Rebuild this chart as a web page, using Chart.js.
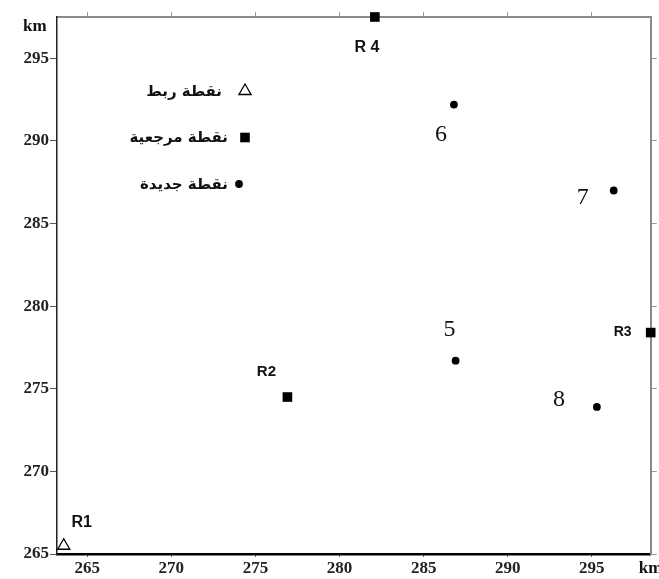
<!DOCTYPE html>
<html>
<head>
<meta charset="utf-8">
<script src="https://cdn.jsdelivr.net/npm/chart.js@4"></script>
<style>
html,body{margin:0;padding:0;background:#fff}
#chartDiv{width:659px;height:579px}
</style>
</head>
<body>
<div id="chartDiv"><canvas id="chartArea"></canvas></div>
<script>
// data (km)
var tieNames = ['R1']
var tieX = [263.6]
var tieY = [265.5]

var refNames = ['R2', 'R3', 'R 4']
var refX = [276.9, 298.5, 282.1]
var refY = [274.5, 278.4, 297.5]

var newNames = ['5', '6', '7', '8']
var newX = [286.9, 286.8, 296.3, 295.3]
var newY = [276.7, 292.2, 287.0, 273.9]

var xTicks = [265, 270, 275, 280, 285, 290, 295]
var yTicks = [265, 270, 275, 280, 285, 290, 295]
var xMin = 263.2, xMax = 298.5
var yMin = 265, yMax = 297.5

var legendLabels = ['نقطة ربط', 'نقطة مرجعية', 'نقطة جديدة']

// where each point name sits relative to its mark
var labelStyle = {
  'R1':  {dx: 18,  dy: -23, font: 'bold 16px "Liberation Sans"'},
  'R2':  {dx: -21, dy: -25, font: 'bold 15px "Liberation Sans"'},
  'R3':  {dx: -28, dy: 0,   font: 'bold 14px "Liberation Sans"'},
  'R 4': {dx: -8,  dy: 31,  font: 'bold 16px "Liberation Sans"'},
  '5':   {dx: -6,  dy: -31, font: '24px "Liberation Serif"'},
  '6':   {dx: -13, dy: 30,  font: '24px "Liberation Serif"'},
  '7':   {dx: -31, dy: 7,   font: '24px "Liberation Serif"'},
  '8':   {dx: -38, dy: -7,  font: '24px "Liberation Serif"'}
}

function toPoints(xs, ys){
  return xs.map(function(x, i){ return {x: x, y: ys[i]} })
}

var tickFont = {family: '"Liberation Serif"', size: 17, weight: 'bold'}

function setTicks(list){
  return function(scale){ scale.ticks = list.map(function(v){ return {value: v} }) }
}

var pointLabels = {
  id: 'pointLabels',
  afterDatasetsDraw: function(chart){
    var ctx = chart.ctx
    ctx.save()
    ctx.fillStyle = '#111'
    ctx.textAlign = 'center'
    ctx.textBaseline = 'middle'
    chart.data.datasets.forEach(function(ds, d){
      chart.getDatasetMeta(d).data.forEach(function(el, i){
        var s = labelStyle[ds.names[i]]
        ctx.font = s.font
        ctx.fillText(ds.names[i], el.x + s.dx, el.y + s.dy)
      })
    })
    ctx.restore()
  }
}

var insideLegend = {
  id: 'insideLegend',
  afterDatasetsDraw: function(chart){
    var ctx = chart.ctx, a = chart.chartArea
    ctx.save()
    chart.data.datasets.forEach(function(ds, d){
      var mx = a.left + 188 - (d == 2 ? 6 : 0)
      var my = a.top + 74 + d * 46.5
      ctx.fillStyle = ds.pointBackgroundColor
      ctx.strokeStyle = ds.pointBorderColor
      ctx.lineWidth = ds.pointBorderWidth
      Chart.helpers.drawPoint(ctx, {pointStyle: ds.pointStyle, radius: ds.pointRadius, rotation: 0, borderWidth: ds.pointBorderWidth}, mx, my)
      ctx.fillStyle = '#111'
      ctx.font = 'bold 15px "DejaVu Sans"'
      ctx.textAlign = 'right'
      ctx.textBaseline = 'middle'
      ctx.fillText(legendLabels[d], a.left + 188 - (d == 0 ? 23 : 17), my + 1)
    })
    ctx.restore()
  }
}

var kmLabels = {
  id: 'kmLabels',
  afterDraw: function(chart){
    var ctx = chart.ctx, a = chart.chartArea
    ctx.save()
    ctx.fillStyle = '#111'
    ctx.font = 'bold 17px "Liberation Serif"'
    ctx.textBaseline = 'middle'
    ctx.textAlign = 'left'
    ctx.fillText('km', a.left - 34, a.top + 10)
    ctx.fillText('km', a.right - 12, a.bottom + 15)
    ctx.restore()
  }
}

var ctx = document.getElementById('chartArea').getContext('2d')

var myChart = new Chart(ctx, {
  type: 'scatter',
  data: {
    datasets: [
      {
        label: legendLabels[0], names: tieNames,
        data: toPoints(tieX, tieY),
        pointStyle: 'triangle', pointRadius: 7,
        pointBackgroundColor: '#fff', pointBorderColor: '#000', pointBorderWidth: 1.3,
        clip: false
      },
      {
        label: legendLabels[1], names: refNames,
        data: toPoints(refX, refY),
        pointStyle: 'rect', pointRadius: 6.8,
        pointBackgroundColor: '#000', pointBorderColor: '#000', pointBorderWidth: 0,
        clip: false
      },
      {
        label: legendLabels[2], names: newNames,
        data: toPoints(newX, newY),
        pointStyle: 'circle', pointRadius: 3.9,
        pointBackgroundColor: '#000', pointBorderColor: '#000', pointBorderWidth: 0,
        clip: false
      }
    ]
  },
  options: {
    responsive: true,
    maintainAspectRatio: false,
    animation: false,
    layout: {padding: 0},
    plugins: {
      legend: {display: false},
      tooltip: {enabled: false}
    },
    scales: {
      x: {
        type: 'linear', position: 'bottom', min: xMin, max: xMax,
        afterBuildTicks: setTicks(xTicks),
        afterFit: function(s){ s.height = 25 },
        border: {display: true, color: '#000', width: 2.5},
        grid: {drawOnChartArea: false, drawTicks: true, tickLength: 3, color: '#555'},
        ticks: {font: tickFont, color: '#222', padding: 1, maxRotation: 0}
      },
      x2: {
        type: 'linear', position: 'top', min: xMin, max: xMax,
        afterBuildTicks: setTicks(xTicks),
        afterFit: function(s){ s.height = 17 },
        border: {display: true, color: '#8a8a8a', width: 2},
        grid: {drawOnChartArea: false, drawTicks: true, tickLength: 5, color: '#999'},
        ticks: {display: false}
      },
      y: {
        type: 'linear', position: 'left', min: yMin, max: yMax,
        afterBuildTicks: setTicks(yTicks),
        afterFit: function(s){ s.width = 57 },
        border: {display: true, color: '#222', width: 1.5},
        grid: {drawOnChartArea: false, drawTicks: true, tickLength: 7, color: '#555'},
        ticks: {font: tickFont, color: '#222', padding: 1}
      },
      y2: {
        type: 'linear', position: 'right', min: yMin, max: yMax,
        afterBuildTicks: setTicks(yTicks),
        afterFit: function(s){ s.width = 7 },
        border: {display: true, color: '#8a8a8a', width: 2},
        grid: {drawOnChartArea: false, drawTicks: true, tickLength: 6, color: '#999'},
        ticks: {display: false}
      }
    }
  },
  plugins: [pointLabels, insideLegend, kmLabels]
})
</script>
</body>
</html>
